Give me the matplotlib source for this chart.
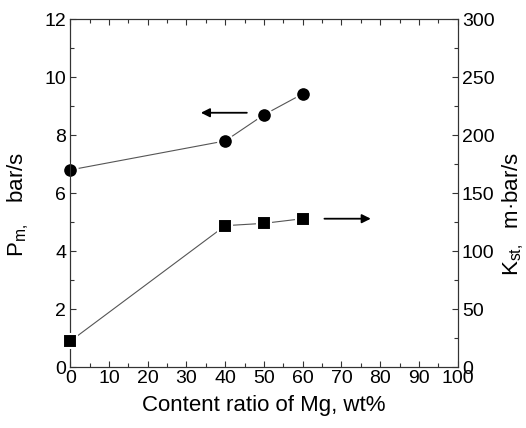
import numpy as np
import matplotlib
matplotlib.use("Agg")
import matplotlib.pyplot as plt
from matplotlib.ticker import MultipleLocator

plt.rcParams['font.family'] = ['Liberation Sans', 'DejaVu Sans']
plt.rcParams['mathtext.default'] = 'regular'

# === Données ===
mg_content = [0, 40, 50, 60]              # wt%
pm_rate = [6.8, 7.8, 8.7, 9.42]           # bar/s (axe gauche)
kst_value = [22.5, 122, 124, 128]         # m.bar/s (axe droit)

fig = plt.figure(figsize=(5.26, 4.28), dpi=100)
ax = fig.add_axes([0.1336, 0.1418, 0.7364, 0.8138])
ax2 = ax.twinx()

line_kw = dict(color='#555555', lw=0.8, zorder=1)
mark_kw = dict(ls='none', color='black', mec='white', mew=1.5, ms=10.6, zorder=3, clip_on=False)

ax.plot(mg_content, pm_rate, **line_kw)
ax.plot(mg_content, pm_rate, marker='o', **mark_kw)
ax2.plot(mg_content, kst_value, **line_kw)
ax2.plot(mg_content, kst_value, marker='s', **mark_kw)

# flèches
ax.annotate('', xy=(33.0, 8.77), xytext=(46.3, 8.77),
            arrowprops=dict(arrowstyle='-|>', color='black', lw=1.3, mutation_scale=13))
ax2.annotate('', xy=(78.3, 128), xytext=(64.9, 128),
             arrowprops=dict(arrowstyle='-|>', color='black', lw=1.3, mutation_scale=13))

ax.set_xlim(0, 100)
ax.set_ylim(0, 12)
ax2.set_ylim(0, 300)
ax.xaxis.set_major_locator(MultipleLocator(10))
ax.xaxis.set_minor_locator(MultipleLocator(5))
ax.yaxis.set_major_locator(MultipleLocator(2))
ax.yaxis.set_minor_locator(MultipleLocator(1))
ax2.yaxis.set_major_locator(MultipleLocator(50))
ax2.yaxis.set_minor_locator(MultipleLocator(25))

for a in (ax, ax2):
    for s in a.spines.values():
        s.set_linewidth(0.8)
        s.set_color('#333333')
ax.tick_params(axis='both', which='both', direction='in', labelsize=14, color='#333333', width=0.8)
ax.tick_params(axis='x', which='both', top=True)
ax.tick_params(which='major', length=4.5)
ax.tick_params(which='minor', length=3)
ax.tick_params(axis='x', pad=2)
ax.tick_params(axis='y', pad=3)
ax2.tick_params(axis='y', which='both', direction='in', labelsize=14, color='#333333', width=0.8, pad=3)
ax2.tick_params(which='major', length=4.5)
ax2.tick_params(which='minor', length=3)

ax.set_xlabel('Content ratio of Mg, wt%', fontsize=16, labelpad=6)
fig.text(18 / 526, 1 - 204 / 428, r'P$_{m,}$   bar/s', fontsize=16,
         rotation=90, ha='center', va='center')
fig.text(513 / 526, 1 - 214 / 428, 'K$_{st,}$  m·bar/s', fontsize=16,
         rotation=90, ha='center', va='center')

fig.savefig('out.png', dpi=100)
